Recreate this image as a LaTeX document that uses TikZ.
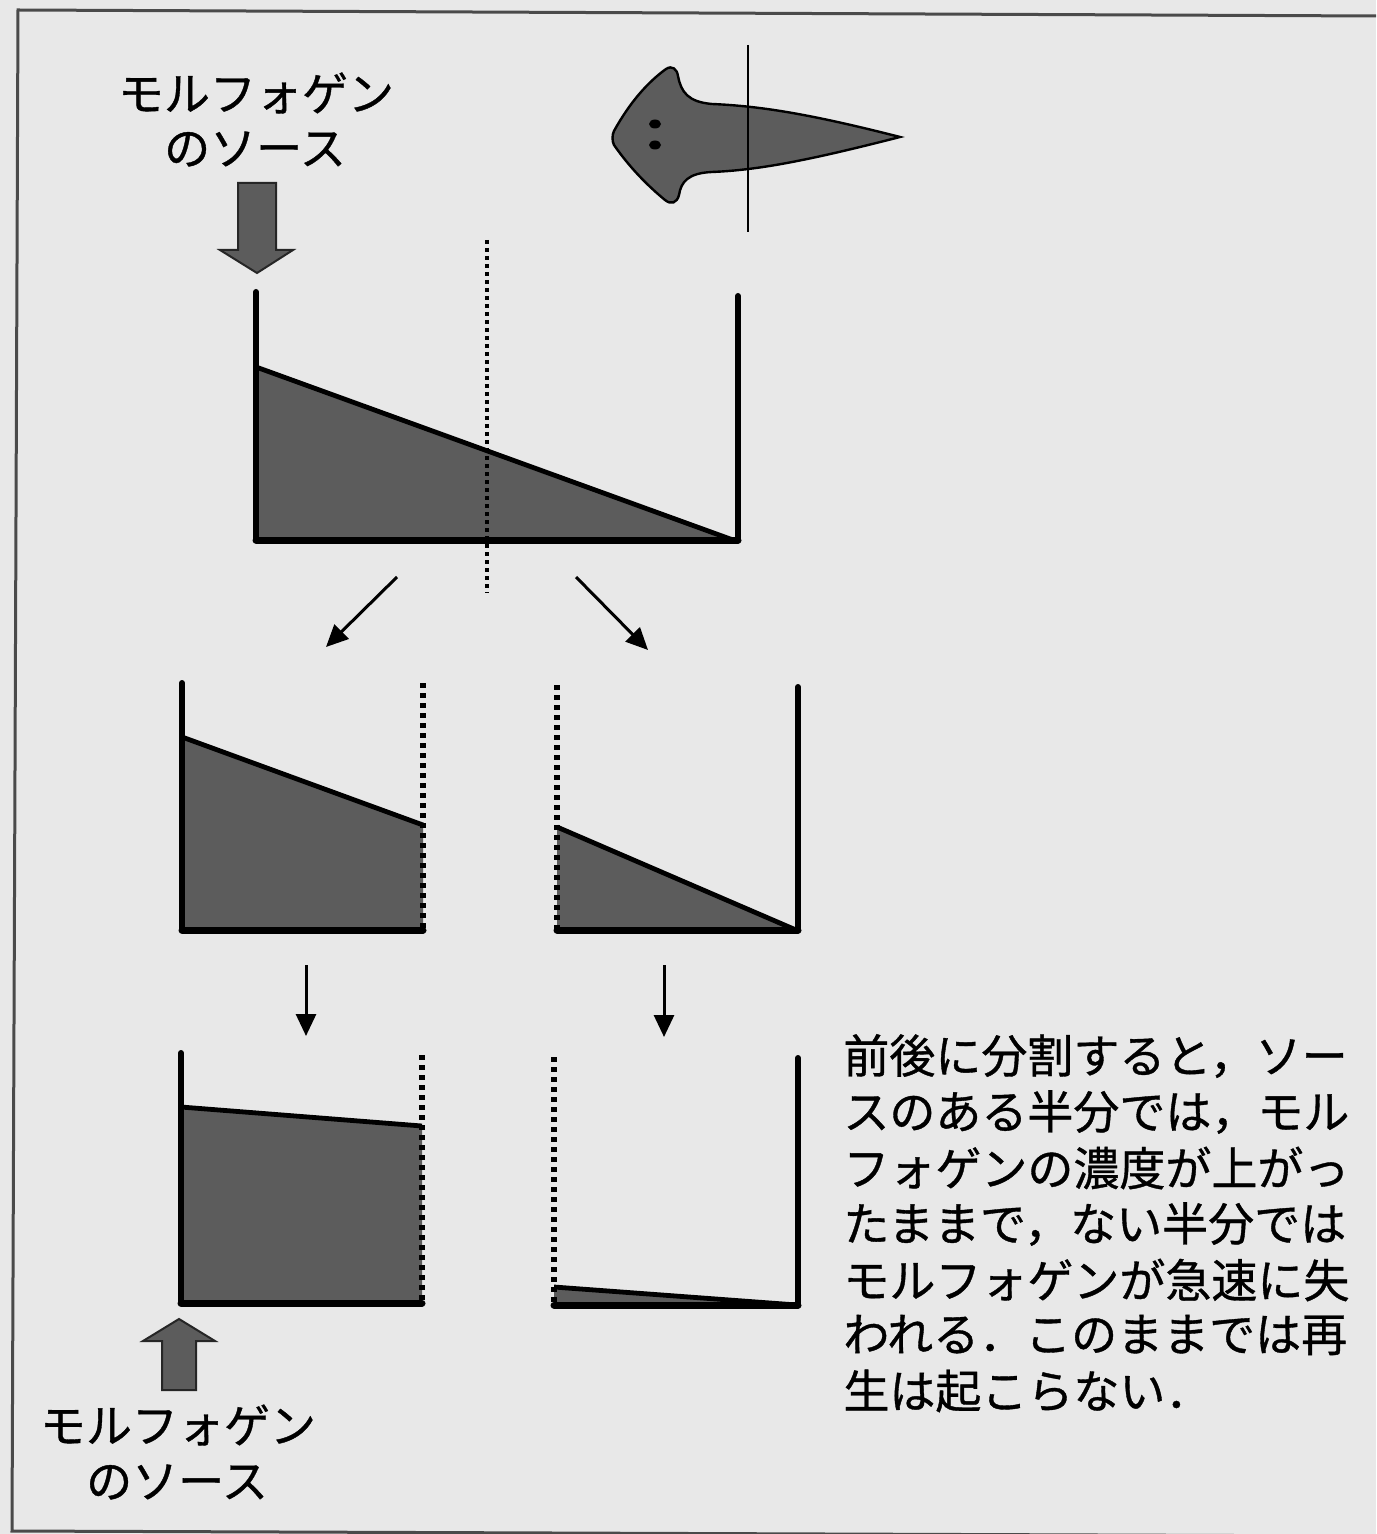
\documentclass[tikz,border=0pt]{standalone}
\usepackage{fontspec}
\newfontfamily\jp[FakeBold=0.8]{Noto Sans CJK JP}
\usetikzlibrary{arrows.meta}
\definecolor{paper}{HTML}{E8E8E8}
\definecolor{morph}{HTML}{5C5C5C}
\definecolor{framegray}{HTML}{4A4A4A}
\begin{document}
\begin{tikzpicture}[x=0.5pt,y=-0.5pt,
  wall/.style={line width=3pt, line cap=round},
  floor/.style={line width=3.5pt, line cap=round},
  cut/.style={line width=3pt, dash pattern=on 2.5pt off 2.5pt},
  midline/.style={line width=2.2pt, dash pattern=on 2pt off 2pt},
  slope/.style={line width=2.4pt},
  flow/.style={line width=1.5pt, -{Triangle[length=11pt,width=10pt]}},
  source/.style={fill=morph, draw=black!85, line width=1pt, line join=miter},
  label/.style={font=\jp\fontsize{23pt}{28pt}\selectfont, inner sep=0pt},
]
% paper and frame
\fill[paper] (0,0) rectangle (1376,1534);
\useasboundingbox (0,0) rectangle (1376,1534);
\draw[framegray, line width=1.5pt] (1376,16) -- (18,10) -- (12,1531) -- (1376,1536);

% source label and arrow at the top
\node[label] (srcTop1) at (256,93) {モルフォゲン};
\node[label] (srcTop2) at (255,149) {のソース};
\draw[source] (238,183) -- (276,183) -- (276,250) -- (293,250) -- (257,273)
  -- (220,250) -- (238,250) -- cycle;

% the animal with the cutting plane
\draw[fill=morph, line width=1.2pt]
  (614,131) .. controls (630,102) and (648,82) .. (666,69)
  .. controls (672,65) and (677,69) .. (678,76)
  .. controls (681,92) and (688,102) .. (712,104)
  .. controls (760,106) and (810,114) .. (900,137)
  .. controls (810,160) and (760,170) .. (712,172)
  .. controls (688,173) and (681,182) .. (679,195)
  .. controls (677,203) and (671,205) .. (665,200)
  .. controls (648,186) and (630,168) .. (614,145)
  .. controls (612,141) and (612,135) .. (614,131) -- cycle;
\fill (655,124) ellipse (6 and 4.5);
\fill (655,145) ellipse (6 and 4.5);
\draw[line width=1.2pt] (748,45) -- (748,232);

% whole tissue: gradient from the source
\fill[morph] (256,367) -- (733,540) -- (256,540) -- cycle;
\draw[slope] (256,367) -- (733,540);
\draw[wall] (256,292) -- (256,540);
\draw[wall] (738,296) -- (738,540);
\draw[floor] (256,540) -- (738,540);
\draw[midline] (487,240) -- (487,593);

% splitting arrows
\coordinate (splitL0) at (397,577);
\coordinate (splitL1) at (326,647);
\coordinate (splitR0) at (576,577);
\coordinate (splitR1) at (648,650);
\draw[flow] (splitL0) -- (splitL1);
\draw[flow] (splitR0) -- (splitR1);

% front half right after the cut
\fill[morph] (182,737) -- (423,825) -- (423,930) -- (182,930) -- cycle;
\draw[slope] (182,737) -- (423,825);
\draw[wall] (182,683) -- (182,930);
\draw[floor] (182,930) -- (423,930);
\draw[cut] (423,683) -- (423,930);

% back half right after the cut
\fill[morph] (557,827) -- (796,930) -- (557,930) -- cycle;
\draw[slope] (557,827) -- (796,930);
\draw[wall] (798,687) -- (798,930);
\draw[floor] (557,930) -- (798,930);
\draw[cut] (557,685) -- (557,930);

% time arrows
\coordinate (timeL0) at (306,965);
\coordinate (timeL1) at (306,1036);
\coordinate (timeR0) at (664,965);
\coordinate (timeR1) at (664,1037);
\draw[flow] (timeL0) -- (timeL1);
\draw[flow] (timeR0) -- (timeR1);

% front half later: level stays high
\fill[morph] (181,1107) -- (422,1126) -- (422,1303) -- (181,1303) -- cycle;
\draw[slope] (181,1107) -- (422,1126);
\draw[wall] (181,1053) -- (181,1303);
\draw[floor] (181,1303) -- (422,1303);
\draw[cut] (422,1055) -- (422,1303);

% back half later: morphogen almost gone
\fill[morph] (554,1287) -- (797,1305) -- (554,1305) -- cycle;
\draw[slope] (554,1287) -- (797,1305);
\draw[wall] (798,1058) -- (798,1305);
\draw[floor] (554,1305) -- (798,1305);
\draw[cut] (554,1057) -- (554,1305);

% source arrow and label at the bottom
\draw[source] (162,1390) -- (196,1390) -- (196,1341) -- (215,1341) -- (179,1319)
  -- (143,1341) -- (162,1341) -- cycle;
\node[label] (srcBot1) at (178,1425) {モルフォゲン};
\node[label] (srcBot2) at (177,1482) {のソース};

% explanation
\node[label, anchor=west] (note1) at (843,1056) {前後に分割すると，ソー};
\node[label, anchor=west] (note2) at (843,1112) {スのある半分では，モル};
\node[label, anchor=west] (note3) at (843,1168) {フォゲンの濃度が上がっ};
\node[label, anchor=west] (note4) at (843,1224) {たままで，ない半分では};
\node[label, anchor=west] (note5) at (843,1280) {モルフォゲンが急速に失};
\node[label, anchor=west] (note6) at (843,1335) {われる．このままでは再};
\node[label, anchor=west] (note7) at (843,1391) {生は起こらない．};
\end{tikzpicture}
\end{document}
